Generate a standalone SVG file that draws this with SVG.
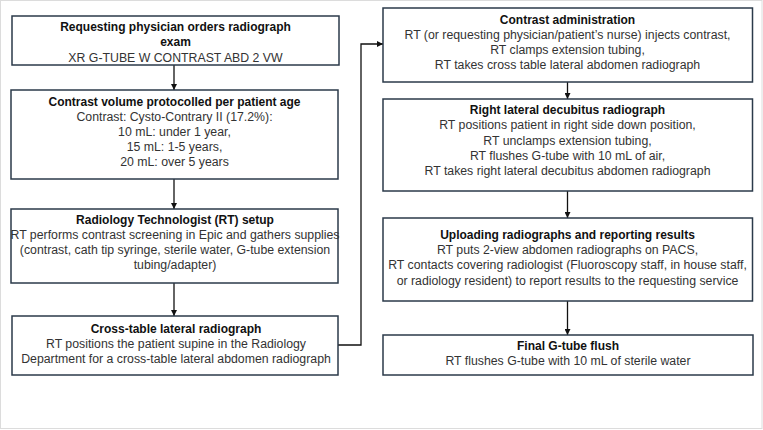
<svg xmlns="http://www.w3.org/2000/svg" width="763" height="430" viewBox="0 0 763 430">
<style>
.box{fill:#ffffff;stroke:#2b3a4a;stroke-width:1.5}
.t{font-family:"Liberation Sans",Arial,sans-serif;font-size:12px;font-weight:bold;fill:#111;text-anchor:middle}
.b{font-family:"Liberation Sans",Arial,sans-serif;font-size:12.3px;fill:#333;text-anchor:middle}
.c{fill:none;stroke:#111;stroke-width:1.3}
</style>
<defs>
<marker id="ah" viewBox="0 0 10 10" refX="10" refY="5" markerWidth="6" markerHeight="6" markerUnits="userSpaceOnUse" orient="auto">
<path d="M0,0 L10,5 L0,10 z" fill="#111"/>
</marker>
</defs>
<rect x="0.5" y="0.5" width="761.5" height="428" fill="#ffffff" stroke="#dcdcdc" stroke-width="1"/>
<g id="connectors">
<line class="c" x1="174" y1="65" x2="174" y2="90" marker-end="url(#ah)"/>
<line class="c" x1="174" y1="179" x2="174" y2="209" marker-end="url(#ah)"/>
<line class="c" x1="174" y1="283" x2="174" y2="316" marker-end="url(#ah)"/>
<polyline class="c" points="338,345 361,345 361,44 383,44" marker-end="url(#ah)"/>
<line class="c" x1="567.5" y1="82" x2="567.5" y2="99" marker-end="url(#ah)"/>
<line class="c" x1="567.5" y1="191" x2="567.5" y2="218" marker-end="url(#ah)"/>
<line class="c" x1="567.5" y1="301" x2="567.5" y2="335" marker-end="url(#ah)"/>
</g>
<g id="n1">
<rect class="box" x="12" y="16" width="327" height="49"/>
<text class="t" x="175.5" y="31">Requesting physician orders radiograph</text>
<text class="t" x="175.5" y="46">exam</text>
<text class="b" x="175.5" y="62">XR G-TUBE W CONTRAST ABD 2 VW</text>
</g>
<g id="n2">
<rect class="box" x="11" y="90" width="327" height="89"/>
<text class="t" x="174.5" y="106">Contrast volume protocolled per patient age</text>
<text class="b" x="174.5" y="121">Contrast: Cysto-Contrary II (17.2%):</text>
<text class="b" x="174.5" y="136">10 mL: under 1 year,</text>
<text class="b" x="174.5" y="151">15 mL: 1-5 years,</text>
<text class="b" x="174.5" y="166">20 mL: over 5 years</text>
</g>
<g id="n3">
<rect class="box" x="11" y="209" width="327" height="74"/>
<text class="t" x="175" y="223.5">Radiology Technologist (RT) setup</text>
<text class="b" x="175" y="238.5">RT performs contrast screening in Epic and gathers supplies</text>
<text class="b" x="175" y="254">(contrast, cath tip syringe, sterile water, G-tube extension</text>
<text class="b" x="175" y="269">tubing/adapter)</text>
</g>
<g id="n4">
<rect class="box" x="12" y="316" width="326" height="59"/>
<text class="t" x="176" y="333">Cross-table lateral radiograph</text>
<text class="b" x="176" y="348">RT positions the patient supine in the Radiology</text>
<text class="b" x="176" y="363">Department for a cross-table lateral abdomen radiograph</text>
</g>
<g id="n5">
<rect class="box" x="383" y="8" width="369.5" height="74"/>
<text class="t" x="567.5" y="24">Contrast administration</text>
<text class="b" x="567.5" y="39">RT (or requesting physician/patient’s nurse) injects contrast,</text>
<text class="b" x="567.5" y="54">RT clamps extension tubing,</text>
<text class="b" x="567.5" y="69">RT takes cross table lateral abdomen radiograph</text>
</g>
<g id="n6">
<rect class="box" x="383" y="99" width="369.5" height="92"/>
<text class="t" x="567.5" y="114">Right lateral decubitus radiograph</text>
<text class="b" x="567.5" y="129">RT positions patient in right side down position,</text>
<text class="b" x="567.5" y="144.5">RT unclamps extension tubing,</text>
<text class="b" x="567.5" y="159.5">RT flushes G-tube with 10 mL of air,</text>
<text class="b" x="567.5" y="175">RT takes right lateral decubitus abdomen radiograph</text>
</g>
<g id="n7">
<rect class="box" x="383" y="218" width="369.5" height="83"/>
<text class="t" x="567.5" y="239">Uploading radiographs and reporting results</text>
<text class="b" x="567.5" y="254">RT puts 2-view abdomen radiographs on PACS,</text>
<text class="b" x="567.5" y="269">RT contacts covering radiologist (Fluoroscopy staff, in house staff,</text>
<text class="b" x="567.5" y="284.5">or radiology resident) to report results to the requesting service</text>
</g>
<g id="n8">
<rect class="box" x="383" y="335" width="370" height="40"/>
<text class="t" x="568" y="350">Final G-tube flush</text>
<text class="b" x="568" y="365">RT flushes G-tube with 10 mL of sterile water</text>
</g>
</svg>
